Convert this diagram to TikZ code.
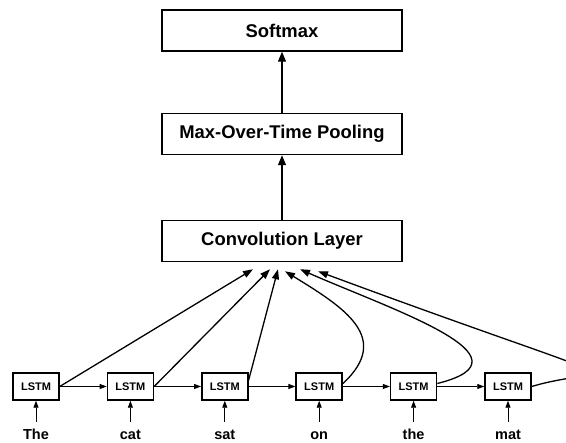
\documentclass[tikz,border=0pt]{standalone}
\usepackage{fontspec}
\setmainfont{Liberation Sans}
\usetikzlibrary{arrows.meta}
\tikzset{
  layer/.style={draw, line width=1.5pt, minimum width=240pt, minimum height=41pt, font=\bfseries\fontsize{18.4}{22}\selectfont},
  cell/.style={draw, line width=1.5pt, minimum width=46pt, minimum height=27pt, inner sep=0pt, font=\bfseries\fontsize{11}{13}\selectfont},
  word/.style={anchor=base, text height=11pt, text depth=3pt, inner ysep=7pt, font=\bfseries\fontsize{14.5}{17}\selectfont},
  up/.style={-{Triangle[length=10pt,width=8pt]}, line width=1.3pt},
  feed/.style={-{Triangle[length=7pt,width=5pt]}, line width=0.9pt},
  tocnn/.style={-{Triangle[length=10pt,width=7pt]}, line width=1.3pt}
}
\begin{document}
\begin{tikzpicture}[x=1pt,y=1pt]
\useasboundingbox (0,0) rectangle (566,443);
\clip (0,0) rectangle (566,443);
% layers
\node[layer] (softmax) at (282,412.5) {Softmax};
\node[layer] (pool) at (282,309) {Max-Over-Time Pooling};
\node[layer] (conv) at (282,202) {Convolution Layer};
\draw[up] (conv) -- (pool);
\draw[up] (pool) -- (softmax);
% lstm cells and words
\foreach \w [count=\i] in {The,cat,sat,on,the,mat} {
  \node[cell] (l\i) at ({36+94.4*(\i-1)},56.5) {LSTM};
  \node[word] (w\i) at ({36+94.4*(\i-1)},3) {\w};
  \draw[feed] (w\i) -- (l\i);
}
\foreach \a/\b in {1/2,2/3,3/4,4/5,5/6}
  \draw[feed] (l\a) -- (l\b);
% cells to convolution
\draw[tocnn] (l1.east) -- ([xshift=-29pt,yshift=-7pt]conv.south);
\draw[tocnn] (l2.east) -- ([xshift=-12pt,yshift=-7pt]conv.south);
\draw[tocnn] ([yshift=6pt]l3.east) -- ([xshift=-4pt,yshift=-7pt]conv.south);
\draw[tocnn] ([yshift=3pt]l4.east) .. controls (392,105) and (345,135) .. ([xshift=3pt,yshift=-9pt]conv.south);
\draw[tocnn] ([yshift=3pt]l5.east) .. controls (540,85) and (390,134) .. ([xshift=18pt,yshift=-7pt]conv.south);
\draw[tocnn] (l6.east) .. controls (610,80) and (660,45) .. ([xshift=36pt,yshift=-9pt]conv.south);
\end{tikzpicture}
\end{document}
